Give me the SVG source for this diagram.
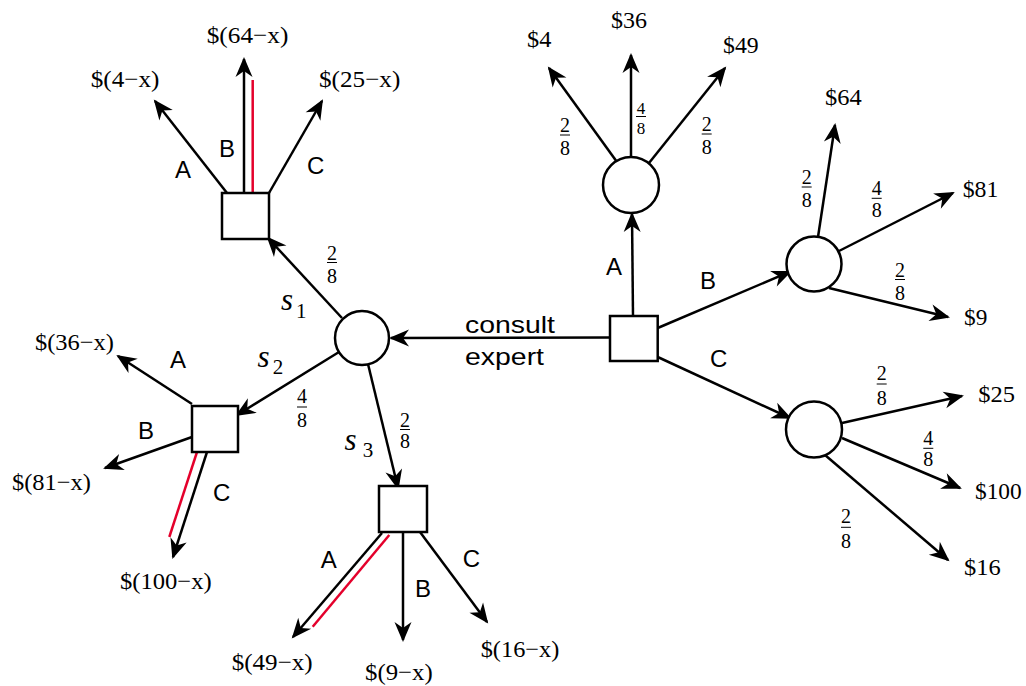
<svg xmlns="http://www.w3.org/2000/svg" width="1026" height="686" viewBox="0 0 1026 686">
<style>
.ln{stroke:#000;stroke-width:2.5;fill:none;marker-end:url(#ah)}
.red{stroke:#e4002b;stroke-width:2.5;fill:none}
.nd{fill:#fff;stroke:#000;stroke-width:2.5}
.val{font-family:"Liberation Serif","Times New Roman",serif;font-size:24px;fill:#000}
.lab{font-family:"Liberation Sans",Arial,sans-serif;font-size:24px;fill:#000}
.fr{font-family:"Liberation Serif","Times New Roman",serif;font-size:20px;fill:#000;text-anchor:middle}
.frs{font-family:"Liberation Serif","Times New Roman",serif;font-size:17px;fill:#000;text-anchor:middle}
.fb{stroke:#000;stroke-width:1}
.s{font-family:"Liberation Serif","Times New Roman",serif;font-size:31px;font-style:italic;fill:#000}
.sub{font-family:"Liberation Serif","Times New Roman",serif;font-size:21px;fill:#000}
</style>
<defs>
<marker id="ah" viewBox="-21 -9 22 18" refX="-2" refY="0" markerWidth="22" markerHeight="18" markerUnits="userSpaceOnUse" orient="auto">
<path d="M0,0 L-20,-8.5 L-14,0 L-20,8.5 Z" fill="#000"/>
</marker>
</defs>
<rect width="1026" height="686" fill="#fff"/>

<g id="connectors">
<line class="ln" x1="610" y1="337.5" x2="391" y2="338"/>
<line class="ln" x1="633" y1="316" x2="632" y2="214"/>
<line class="ln" x1="657.7" y1="328" x2="790" y2="271.7"/>
<line class="ln" x1="657.7" y1="357" x2="790" y2="418"/>
<line class="ln" x1="617" y1="162" x2="549" y2="68"/>
<line class="ln" x1="631" y1="157" x2="631" y2="55"/>
<line class="ln" x1="649" y1="163" x2="725" y2="68"/>
<line class="ln" x1="818" y1="237" x2="835" y2="125"/>
<line class="ln" x1="839" y1="251" x2="953" y2="193"/>
<line class="ln" x1="829" y1="288" x2="948" y2="317"/>
<line class="ln" x1="842" y1="423" x2="962" y2="396"/>
<line class="ln" x1="842" y1="438" x2="960" y2="488"/>
<line class="ln" x1="825" y1="455" x2="948" y2="560"/>
<line class="ln" x1="342" y1="318" x2="268" y2="238"/>
<line class="ln" x1="339" y1="352" x2="237" y2="415"/>
<line class="ln" x1="368" y1="364" x2="398" y2="488"/>
<line class="ln" x1="227" y1="193" x2="155" y2="101"/>
<line class="ln" x1="244" y1="193" x2="244" y2="59"/>
<line class="ln" x1="269" y1="193" x2="322" y2="101"/>
<line class="red" x1="252.7" y1="80" x2="252.7" y2="193"/>
<line class="ln" x1="192" y1="404" x2="118" y2="356"/>
<line class="ln" x1="192" y1="437" x2="105" y2="468"/>
<line class="ln" x1="207" y1="452" x2="173" y2="557"/>
<line class="red" x1="197" y1="452" x2="169.3" y2="537"/>
<line class="ln" x1="382" y1="533" x2="293" y2="637"/>
<line class="ln" x1="403" y1="532" x2="403" y2="640"/>
<line class="ln" x1="420" y1="532" x2="487" y2="622"/>
<line class="red" x1="389.3" y1="535" x2="312.7" y2="626.7"/>
</g>

<g id="decision-root"><rect class="nd" x="610" y="316" width="47.7" height="45"/></g>
<g id="chance-expert"><circle class="nd" cx="362" cy="338" r="27"/></g>
<g id="chance-A"><circle class="nd" cx="631" cy="185" r="28"/></g>
<g id="chance-B"><circle class="nd" cx="814" cy="264" r="27.5"/></g>
<g id="chance-C"><circle class="nd" cx="814" cy="429.5" r="28"/></g>
<g id="decision-s1"><rect class="nd" x="222" y="193" width="47" height="46"/></g>
<g id="decision-s2"><rect class="nd" x="192" y="406" width="46" height="46"/></g>
<g id="decision-s3"><rect class="nd" x="379" y="486" width="48" height="46"/></g>

<g id="labels">
<text class="lab" x="465" y="333" textLength="90" lengthAdjust="spacingAndGlyphs">consult</text>
<text class="lab" x="465" y="365" textLength="79" lengthAdjust="spacingAndGlyphs">expert</text>
<text class="lab" x="606" y="275">A</text>
<text class="lab" x="700" y="289">B</text>
<text class="lab" x="710" y="367">C</text>
<text class="lab" x="175" y="178">A</text>
<text class="lab" x="219" y="157">B</text>
<text class="lab" x="307" y="174">C</text>
<text class="lab" x="170" y="368">A</text>
<text class="lab" x="138" y="439">B</text>
<text class="lab" x="213" y="501">C</text>
<text class="lab" x="320.7" y="568">A</text>
<text class="lab" x="415" y="596.7">B</text>
<text class="lab" x="462.7" y="566.7">C</text>

<text class="s" x="281" y="310">s</text><text class="sub" x="296" y="318">1</text>
<text class="s" x="257.5" y="367">s</text><text class="sub" x="272.7" y="374">2</text>
<text class="s" x="344.5" y="450">s</text><text class="sub" x="362.7" y="457">3</text>

<text class="val" x="90.7" y="87" textLength="68.7" lengthAdjust="spacingAndGlyphs">$(4−x)</text>
<text class="val" x="206.7" y="43" textLength="81.7" lengthAdjust="spacingAndGlyphs">$(64−x)</text>
<text class="val" x="319" y="87" textLength="81.3" lengthAdjust="spacingAndGlyphs">$(25−x)</text>
<text class="val" x="35" y="350" textLength="79" lengthAdjust="spacingAndGlyphs">$(36−x)</text>
<text class="val" x="12" y="490" textLength="79" lengthAdjust="spacingAndGlyphs">$(81−x)</text>
<text class="val" x="120" y="589" textLength="91.7" lengthAdjust="spacingAndGlyphs">$(100−x)</text>
<text class="val" x="231.7" y="670" textLength="81" lengthAdjust="spacingAndGlyphs">$(49−x)</text>
<text class="val" x="365" y="680" textLength="67.7" lengthAdjust="spacingAndGlyphs">$(9−x)</text>
<text class="val" x="480.7" y="656.7" textLength="78.7" lengthAdjust="spacingAndGlyphs">$(16−x)</text>
<text class="val" x="527" y="47" textLength="24.3" lengthAdjust="spacingAndGlyphs">$4</text>
<text class="val" x="611" y="27.5" textLength="36" lengthAdjust="spacingAndGlyphs">$36</text>
<text class="val" x="723" y="53" textLength="35.7" lengthAdjust="spacingAndGlyphs">$49</text>
<text class="val" x="825" y="105" textLength="36.7" lengthAdjust="spacingAndGlyphs">$64</text>
<text class="val" x="962.7" y="196.7" textLength="35.7" lengthAdjust="spacingAndGlyphs">$81</text>
<text class="val" x="964" y="325" textLength="23.3" lengthAdjust="spacingAndGlyphs">$9</text>
<text class="val" x="978.3" y="401.7" textLength="36.7" lengthAdjust="spacingAndGlyphs">$25</text>
<text class="val" x="975" y="499.3" textLength="46.7" lengthAdjust="spacingAndGlyphs">$100</text>
<text class="val" x="964" y="575" textLength="36.7" lengthAdjust="spacingAndGlyphs">$16</text>
</g>

<g id="fractions">
<text class="fr" x="565" y="131.5">2</text><line class="fb" x1="560" y1="135" x2="570" y2="135"/><text class="fr" x="565" y="155">8</text>
<text class="frs" x="641" y="113.5">4</text><line class="fb" x1="636" y1="116.5" x2="646" y2="116.5"/><text class="frs" x="641" y="133.5">8</text>
<text class="fr" x="706.7" y="130.7">2</text><line class="fb" x1="701.7" y1="134" x2="711.7" y2="134"/><text class="fr" x="706.7" y="154">8</text>
<text class="fr" x="806.7" y="184">2</text><line class="fb" x1="801.7" y1="187" x2="811.7" y2="187"/><text class="fr" x="806.7" y="207">8</text>
<text class="fr" x="876.7" y="195">4</text><line class="fb" x1="871.7" y1="198.3" x2="881.7" y2="198.3"/><text class="fr" x="876.7" y="217">8</text>
<text class="fr" x="900" y="276.7">2</text><line class="fb" x1="895" y1="279.5" x2="905" y2="279.5"/><text class="fr" x="900" y="300">8</text>
<text class="fr" x="881.7" y="380">2</text><line class="fb" x1="876.7" y1="384" x2="886.7" y2="384"/><text class="fr" x="881.7" y="405">8</text>
<text class="fr" x="928.3" y="445">4</text><line class="fb" x1="923.3" y1="448.3" x2="933.3" y2="448.3"/><text class="fr" x="928.3" y="466">8</text>
<text class="fr" x="846" y="523.3">2</text><line class="fb" x1="841" y1="527.3" x2="851" y2="527.3"/><text class="fr" x="846" y="548.3">8</text>
<text class="fr" x="332" y="259.5">2</text><line class="fb" x1="327" y1="262.5" x2="337" y2="262.5"/><text class="fr" x="332" y="283">8</text>
<text class="fr" x="302" y="403">4</text><line class="fb" x1="297" y1="407" x2="307" y2="407"/><text class="fr" x="302" y="427">8</text>
<text class="fr" x="405" y="426.7">2</text><line class="fb" x1="400" y1="429.5" x2="410" y2="429.5"/><text class="fr" x="405" y="448">8</text>
</g>
</svg>
